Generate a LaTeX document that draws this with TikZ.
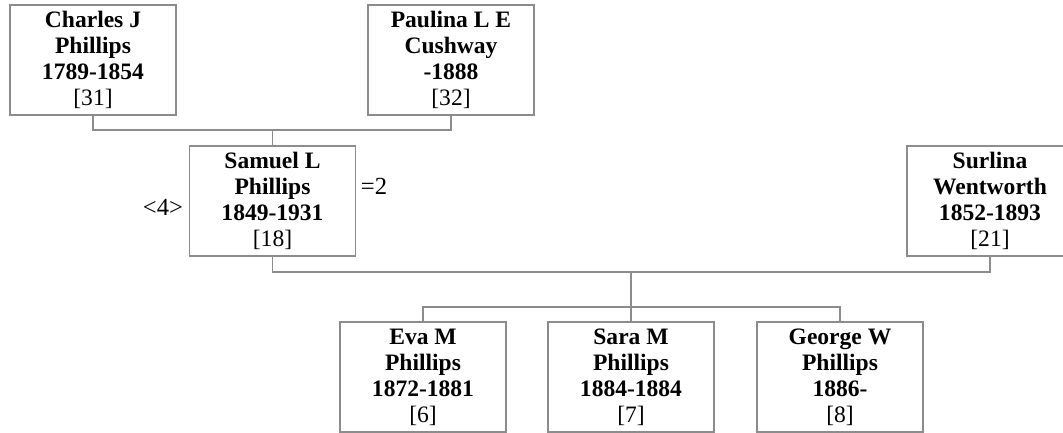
\documentclass[tikz,border=0pt]{standalone}
\usepackage{fontspec}
\setmainfont{Liberation Serif}
\usepackage{tikz}
\tikzset{person/.style={draw=black!45,line width=0.7pt,fill=white,align=center,inner sep=0pt,minimum width=3.32cm,minimum height=2.2cm,font=\fontsize{13.4}{14.8}\selectfont},
link/.style={draw=black!45,line width=0.7pt}}
\newcommand{\entry}[4]{\textbf{#1}\\\textbf{#2}\\\textbf{#3}\\{}[#4]}

\begin{document}
\begin{tikzpicture}[x=0.02cm,y=-0.02cm]
\useasboundingbox (0,0) rectangle (1063,433);
\clip (0,0) rectangle (1063,433);
\node[person](charles) at (93,60) {\entry{Charles J}{Phillips}{1789-1854}{31}};
\node[person](paulina) at (451,60) {\entry{Paulina L E}{Cushway}{-1888}{32}};
\node[person](samuel) at (272.5,201) {\entry{Samuel L}{Phillips}{1849-1931}{18}};
\node[person](surlina) at (990,201) {\entry{Surlina}{Wentworth}{1852-1893}{21}};
\node[person](eva) at (423,377) {\entry{Eva M}{Phillips}{1872-1881}{6}};
\node[person](sara) at (631,377) {\entry{Sara M}{Phillips}{1884-1884}{7}};
\node[person](george) at (840,377) {\entry{George W}{Phillips}{1886-}{8}};
\node[font=\fontsize{14}{16}\selectfont](gen) at (163,207) {<4>};
\node[font=\fontsize{14}{16}\selectfont](wife) at (374,186) {=2};
\coordinate (pbar) at (272.5,130);
\coordinate (cbar) at (631,272);
\coordinate (kbar) at (631,307);
% parents
\draw[link] (charles.south) |- (pbar) -| (paulina.south);
\draw[link] (pbar) -- (samuel.north);
% couple and children
\draw[link] (samuel.south) |- (cbar) -| (surlina.south);
\draw[link] (cbar) -- (kbar);
\draw[link] (eva.north) |- (kbar) -| (george.north);
\draw[link] (kbar) -- (sara.north);
\end{tikzpicture}
\end{document}
